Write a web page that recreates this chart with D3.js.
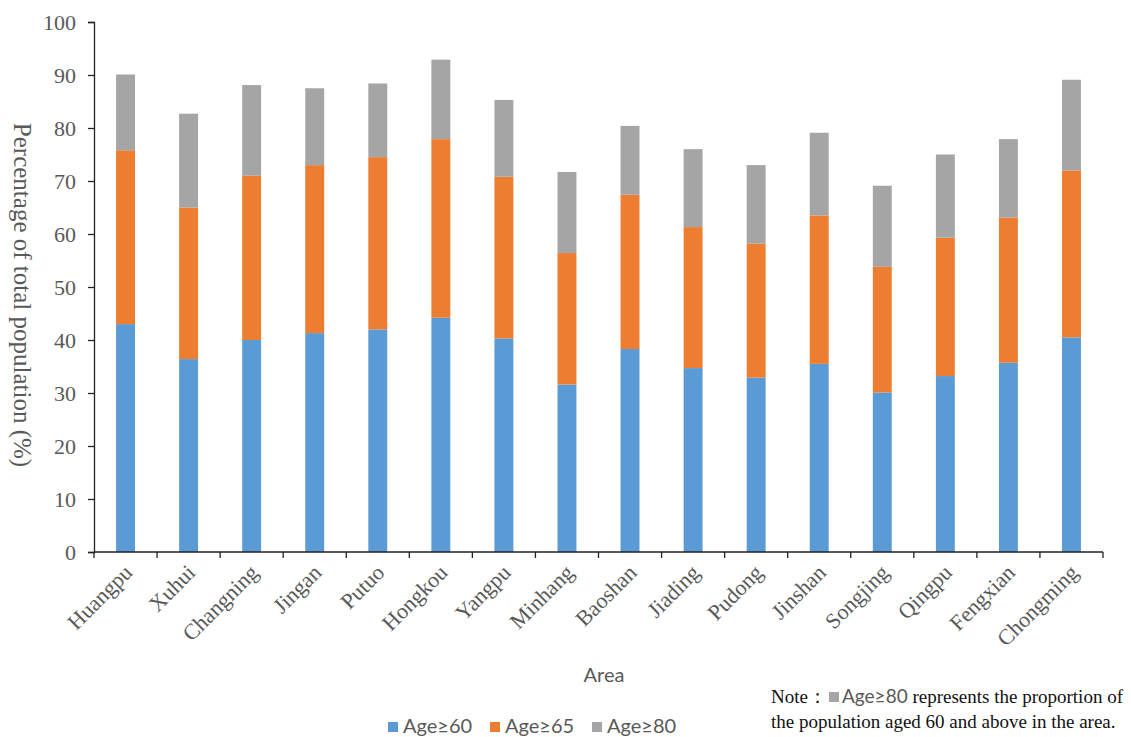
<!DOCTYPE html>
<html>
<head>
<meta charset="utf-8">
<script src="https://cdn.jsdelivr.net/npm/d3@7"></script>
<style>
  html, body { margin: 0; padding: 0; background: #fff; }
  svg { display: block; }
</style>
</head>
<body>
<svg id="chart"></svg>
<script>
// Areas (label spelling kept as in the source figure)
const areas = ["Huangpu", "Xuhui", "Changning", "Jingan", "Putuo", "Hongkou", "Yangpu", "Minhang",
  "Baoshan", "Jiading", "Pudong", "Jinshan", "Songjing", "Qingpu", "Fengxian", "Chongming"];

// Segment heights (percentage points)
const age60 = [43.0, 36.4, 40.0, 41.3, 42.0, 44.2, 40.3, 31.6, 38.3, 34.7, 32.9, 35.5, 30.1, 33.2, 35.7, 40.5];
const age65 = [32.8, 28.6, 31.0, 31.7, 32.5, 33.7, 30.5, 24.8, 29.1, 26.6, 25.3, 28.0, 23.7, 26.1, 27.4, 31.5];
const age80 = [14.3, 17.7, 17.1, 14.5, 13.9, 15.0, 14.5, 15.3, 13.0, 14.7, 14.8, 15.6, 15.3, 15.7, 14.8, 17.1];

const seriesNames = ["Age≥60", "Age≥65", "Age≥80"];
const seriesColors = ["#5B9BD5", "#ED7D31", "#A5A5A5"];
const yTicks = [0, 10, 20, 30, 40, 50, 60, 70, 80, 90, 100];

const width = 1131, height = 737;
const margin = { top: 22, right: 28, bottom: 185, left: 94 };
const innerW = width - margin.left - margin.right;
const innerH = height - margin.top - margin.bottom;

const serif = "'Liberation Serif', 'DejaVu Serif', serif";
const sans = "Lato, 'Open Sans', sans-serif";

const svg = d3.select("#chart").attr("width", width).attr("height", height);
const g = svg.append("g").attr("transform", `translate(${margin.left},${margin.top})`);

const rows = areas.map((a, i) => ({ area: a, "Age≥60": age60[i], "Age≥65": age65[i], "Age≥80": age80[i] }));
const stacked = d3.stack().keys(seriesNames)(rows);

const x = d3.scaleBand().domain(areas).range([0, innerW]).paddingInner(0.7).paddingOuter(0.35);
const y = d3.scaleLinear().domain([0, 100]).range([innerH, 0]);
const color = d3.scaleOrdinal().domain(seriesNames).range(seriesColors);

// Bars
g.selectAll(".series")
  .data(stacked)
  .enter()
  .append("g")
  .attr("fill", d => color(d.key))
  .selectAll("rect")
  .data(d => d)
  .enter()
  .append("rect")
  .attr("x", d => x(d.data.area))
  .attr("y", d => y(d[1]))
  .attr("width", x.bandwidth())
  .attr("height", d => y(d[0]) - y(d[1]));

// Y axis
g.append("g")
  .call(d3.axisLeft(y).tickValues(yTicks).tickSize(6).tickSizeOuter(6).tickPadding(12))
  .call(ax => {
    ax.select(".domain").attr("stroke", "#222").attr("stroke-width", 1.3);
    ax.selectAll(".tick line").attr("stroke", "#222").attr("stroke-width", 1.3);
    ax.selectAll("text")
      .attr("fill", "#595959")
      .style("font-family", serif)
      .style("font-size", "22px");
  });

// X axis: ticks sit on band boundaries, as in the original
const boundaries = d3.range(areas.length + 1).map(i => i * innerW / areas.length);
const xAxis = g.append("g").attr("transform", `translate(0,${innerH})`);
xAxis.append("line")
  .attr("x1", 0).attr("x2", innerW)
  .attr("stroke", "#222").attr("stroke-width", 1.3);
xAxis.selectAll(".btick")
  .data(boundaries)
  .enter()
  .append("line")
  .attr("x1", d => d).attr("x2", d => d)
  .attr("y1", 0).attr("y2", 6)
  .attr("stroke", "#222").attr("stroke-width", 1.3);

xAxis.selectAll(".xlab")
  .data(areas)
  .enter()
  .append("text")
  .attr("transform", d => `translate(${x(d) + x.bandwidth() / 2 + 8},${22}) rotate(-45)`)
  .attr("text-anchor", "end")
  .attr("fill", "#595959")
  .style("font-family", serif)
  .style("font-size", "22px")
  .text(d => d);

// Axis titles
svg.append("text")
  .attr("transform", `translate(14,${margin.top + innerH / 2 + 8}) rotate(90)`)
  .attr("text-anchor", "middle")
  .attr("fill", "#595959")
  .style("font-family", serif)
  .style("font-size", "25px")
  .text("Percentage of total population (%)");

svg.append("text")
  .attr("x", 604)
  .attr("y", 682)
  .attr("text-anchor", "middle")
  .attr("fill", "#595959")
  .style("font-family", sans)
  .style("font-size", "20px")
  .text("Area");

// Legend
const legendX = [388, 490, 592];
const legend = svg.append("g");
seriesNames.forEach((name, i) => {
  const lg = legend.append("g").attr("transform", `translate(${legendX[i]},722)`);
  lg.append("rect").attr("width", 10).attr("height", 10).attr("fill", seriesColors[i]);
  lg.append("text")
    .attr("x", 15).attr("y", 11)
    .attr("fill", "#595959")
    .style("font-family", sans)
    .style("font-size", "20px")
    .text(name);
});

// Note
const note = svg.append("g").attr("transform", "translate(771,0)")
  .style("font-family", serif)
  .style("font-size", "19px")
  .attr("fill", "#111");
note.append("text").attr("x", 0).attr("y", 703).text("Note：");
note.append("rect").attr("x", 58).attr("y", 692).attr("width", 10).attr("height", 10).attr("fill", "#A5A5A5");
const t1 = note.append("text").attr("x", 71).attr("y", 703);
t1.append("tspan").attr("fill", "#595959")
  .style("font-family", sans)
  .text("Age≥80");
t1.append("tspan").text(" represents the proportion of");
note.append("text").attr("x", 0).attr("y", 728)
  .text("the population aged 60 and above in the area.");
</script>
</body>
</html>
